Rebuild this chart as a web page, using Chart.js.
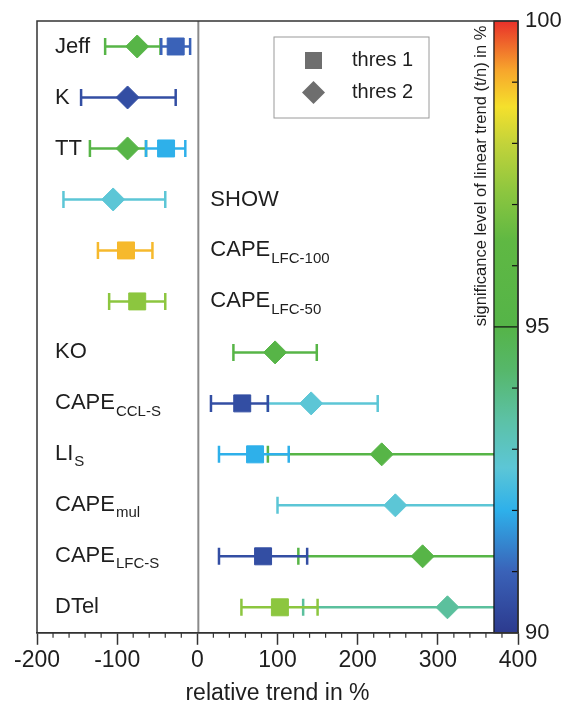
<!DOCTYPE html>
<html>
<head>
<meta charset="utf-8">
<script src="https://cdn.jsdelivr.net/npm/chart.js@4"></script>
<style>
  body { margin: 0; background: #fff; }
  canvas { display: block; }
</style>
</head>
<body>
<canvas id="trendChart" width="570" height="708"></canvas>
<script>
// Índices (linhas do gráfico), de cima para baixo
const indexNames = ["Jeff", "K", "TT", "SHOW", "CAPE", "CAPE", "KO", "CAPE", "LI", "CAPE", "CAPE", "DTel"];
const indexSubs = ["", "", "", "", "LFC-100", "LFC-50", "", "CCL-S", "S", "mul", "LFC-S", ""];

// thres 1 (quadrado): tendência relativa em %, intervalo e nível de significância
const thres1Trend = [-27, null, -39, null, -89, -75, null, 56, 72, null, 82, 103];
const thres1Low = [-45, null, -64, null, -124, -110, null, 17, 27, null, 27, 55];
const thres1High = [-9, null, -15, null, -56, -40, null, 88, 114, null, 137, 150];
const thres1Signif = [91.0, null, 92.0, null, 99.0, 97.2, null, 90.5, 92.0, null, 90.5, 97.2];

// thres 2 (losango)
const thres2Trend = [-75, -87, -87, -105, null, null, 97, 142, 230, 247, 281, 312];
const thres2Low = [-115, -145, -134, -167, null, null, 45, 88, 88, 100, 126, 132];
const thres2High = [-46, -27, -64, -40, null, null, 149, 225, 400, 400, 400, 400];
const thres2Signif = [95.3, 90.5, 95.3, 92.7, null, null, 95.3, 92.7, 95.3, 92.7, 95.3, 93.6];

// escala de cores da significância (90 a 100 %)
const cbarLevels = [90, 91, 92, 92.7, 93.5, 94.3, 95, 96.4, 97.2, 98.0, 98.6, 99.2, 100];
const cbarColors = ["#2c3a8e", "#3a62b8", "#2eb0ea", "#5cc6d6", "#5cc1a4", "#56b76a", "#55b448",
                    "#5fb843", "#8cc63f", "#c3d33a", "#f5e02c", "#f7a52c", "#e8302a"];
const cbarTicks = [90, 95, 100];

const xTicksMajor = [-200, -100, 0, 100, 200, 300, 400];

function hexToRgb(h) {
  return [parseInt(h.slice(1, 3), 16), parseInt(h.slice(3, 5), 16), parseInt(h.slice(5, 7), 16)];
}

// cor para um nível de significância
function signifColor(s) {
  for (let i = 0; i < cbarLevels.length - 1; i++) {
    if (s <= cbarLevels[i + 1]) {
      const t = (s - cbarLevels[i]) / (cbarLevels[i + 1] - cbarLevels[i]);
      const a = hexToRgb(cbarColors[i]);
      const b = hexToRgb(cbarColors[i + 1]);
      const c = a.map((v, k) => Math.round(v + (b[k] - v) * t));
      return "rgb(" + c.join(",") + ")";
    }
  }
  return cbarColors[cbarColors.length - 1];
}

// uma barra de erro com o marcador no meio
function errorBar(low, value, high, row, signif, marker, order) {
  const color = signifColor(signif);
  const r = marker === "rect" ? 12 : 11.5;
  return {
    data: [{ x: low, y: row }, { x: value, y: row }, { x: high, y: row }],
    showLine: true,
    borderColor: color,
    borderWidth: 2.5,
    pointStyle: ["line", marker, "line"],
    pointRotation: [90, 0, 90],
    pointRadius: [8.5, r, 8.5],
    pointHoverRadius: [8.5, r, 8.5],
    pointBackgroundColor: color,
    pointBorderColor: color,
    pointBorderWidth: [2.5, 1, 2.5],
    order: order,
  };
}

const datasets = [];
indexNames.forEach((name, i) => {
  if (thres2Trend[i] !== null) {
    datasets.push(errorBar(thres2Low[i], thres2Trend[i], thres2High[i], i + 1, thres2Signif[i], "rectRot", 2));
  }
  if (thres1Trend[i] !== null) {
    datasets.push(errorBar(thres1Low[i], thres1Trend[i], thres1High[i], i + 1, thres1Signif[i], "rect", 1));
  }
});

const textColor = "#1e1e1e";
const fontFamily = "'Liberation Sans', Arial, Helvetica, sans-serif";
const rightSideLabels = [3, 4, 5]; // SHOW, CAPE_LFC-100, CAPE_LFC-50 ficam à direita do zero

const extrasPlugin = {
  id: "extras",
  beforeDatasetsDraw(chart) {
    const { ctx, chartArea: a, scales } = chart;
    const x0 = scales.x.getPixelForValue(0) + 1;
    ctx.save();
    ctx.strokeStyle = "#8a8a8a";
    ctx.lineWidth = 2;
    ctx.beginPath();
    ctx.moveTo(x0, a.top);
    ctx.lineTo(x0, a.bottom);
    ctx.stroke();
    ctx.restore();
  },
  afterDatasetsDraw(chart) {
    const { ctx, chartArea: a, scales } = chart;
    const xs = scales.x, ys = scales.y;
    ctx.save();

    // nomes dos índices com subscrito
    ctx.fillStyle = textColor;
    ctx.textBaseline = "middle";
    ctx.textAlign = "left";
    indexNames.forEach((name, i) => {
      const y = ys.getPixelForValue(i + 1);
      const x = rightSideLabels.includes(i) ? xs.getPixelForValue(0) + 13 : a.left + 18;
      ctx.font = "22px " + fontFamily;
      ctx.fillText(name, x, y);
      if (indexSubs[i]) {
        const w = ctx.measureText(name).width;
        ctx.font = "15px " + fontFamily;
        ctx.fillText(indexSubs[i], x + w + 1, y + 8);
      }
    });

    // barra de cores
    const cx0 = xs.getPixelForValue(370);
    const cx1 = a.right;
    const grad = ctx.createLinearGradient(0, a.bottom, 0, a.top);
    cbarLevels.forEach((lv, k) => grad.addColorStop((lv - 90) / 10, cbarColors[k]));
    ctx.fillStyle = grad;
    ctx.fillRect(cx0, a.top, cx1 - cx0, a.bottom - a.top);
    ctx.strokeStyle = "#111";
    ctx.lineWidth = 1.2;
    ctx.strokeRect(cx0, a.top, cx1 - cx0, a.bottom - a.top);
    const yOf = s => a.bottom - (s - 90) / 10 * (a.bottom - a.top);
    for (let s = 91; s < 100; s++) {
      ctx.beginPath();
      if (s === 95) {
        ctx.moveTo(cx0, yOf(s));
      } else {
        ctx.moveTo(cx1 - 6, yOf(s));
      }
      ctx.lineTo(cx1, yOf(s));
      ctx.stroke();
    }
    ctx.fillStyle = textColor;
    ctx.font = "22px " + fontFamily;
    ctx.textAlign = "left";
    cbarTicks.forEach(s => ctx.fillText(String(s), cx1 + 7, yOf(s)));

    // título da barra de cores
    ctx.save();
    ctx.translate(cx0 - 12, (a.top + yOf(95)) / 2 + 2);
    ctx.rotate(-Math.PI / 2);
    ctx.font = "16.5px " + fontFamily;
    ctx.textAlign = "center";
    ctx.fillText("significance level of linear trend (t/n) in %", 0, 0);
    ctx.restore();

    // legenda
    const lx = a.left + 237, ly = a.top + 16;
    ctx.fillStyle = "#fff";
    ctx.fillRect(lx, ly, 155, 81);
    ctx.strokeStyle = "#9a9a9a";
    ctx.lineWidth = 1;
    ctx.strokeRect(lx, ly, 155, 81);
    ctx.fillStyle = "#6e6e6e";
    ctx.fillRect(lx + 31, ly + 15, 17, 17);
    ctx.beginPath();
    ctx.moveTo(lx + 39.5, ly + 44);
    ctx.lineTo(lx + 51, ly + 55.5);
    ctx.lineTo(lx + 39.5, ly + 67);
    ctx.lineTo(lx + 28, ly + 55.5);
    ctx.closePath();
    ctx.fill();
    ctx.fillStyle = textColor;
    ctx.font = "20px " + fontFamily;
    ctx.fillText("thres 1", lx + 78, ly + 23.5);
    ctx.fillText("thres 2", lx + 78, ly + 55.5);

    // moldura
    ctx.strokeStyle = "#333";
    ctx.lineWidth = 1.5;
    ctx.strokeRect(a.left, a.top, a.right - a.left, a.bottom - a.top);

    // marcas menores do eixo x
    ctx.lineWidth = 1.2;
    for (let v = -180; v < 400; v += 20) {
      if (v % 100 === 0) continue;
      const px = xs.getPixelForValue(v);
      ctx.beginPath();
      ctx.moveTo(px, a.bottom);
      ctx.lineTo(px, a.bottom + 5);
      ctx.stroke();
    }
    ctx.restore();
  },
};

new Chart("trendChart", {
  type: "scatter",
  data: { datasets: datasets },
  options: {
    responsive: false,
    animation: false,
    layout: { padding: { left: 37, right: 52, top: 21, bottom: 1 } },
    plugins: {
      legend: { display: false },
      tooltip: { enabled: false },
    },
    scales: {
      x: {
        type: "linear",
        min: -200,
        max: 400,
        afterBuildTicks: axis => { axis.ticks = xTicksMajor.map(v => ({ value: v })); },
        ticks: {
          autoSkip: false,
          maxRotation: 0,
          padding: 2,
          color: textColor,
          font: { size: 23, family: fontFamily },
        },
        grid: { drawOnChartArea: false, tickLength: 12, tickColor: "#333", tickWidth: 1.5 },
        border: { color: "#333", width: 1.5 },
        title: {
          display: true,
          text: "relative trend in %",
          color: textColor,
          font: { size: 23, family: fontFamily },
          padding: { top: 3, bottom: 0 },
        },
      },
      y: {
        type: "linear",
        reverse: true,
        min: 0.5,
        max: 12.5,
        display: false,
      },
    },
  },
  plugins: [extrasPlugin],
});
</script>
</body>
</html>
